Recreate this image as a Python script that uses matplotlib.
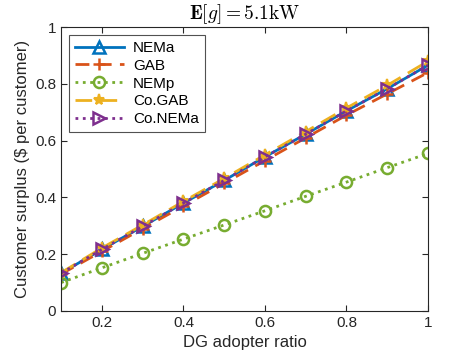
import matplotlib
matplotlib.use("Agg")
import matplotlib.pyplot as plt

plt.rcParams['font.family'] = ['Liberation Sans', 'DejaVu Sans']
plt.rcParams['mathtext.fontset'] = 'cm'

x = [0.1, 0.2, 0.3, 0.4, 0.5, 0.6, 0.7, 0.8, 0.9, 1.0]
nema = [0.133, 0.217, 0.298, 0.380, 0.460, 0.543, 0.623, 0.705, 0.783, 0.866]
gab = [0.130, 0.210, 0.290, 0.370, 0.450, 0.530, 0.610, 0.690, 0.765, 0.840]
nemp = [0.100, 0.152, 0.203, 0.253, 0.303, 0.353, 0.404, 0.454, 0.505, 0.555]
cogab = [0.135, 0.222, 0.303, 0.386, 0.467, 0.550, 0.632, 0.715, 0.795, 0.880]
conema = [0.133, 0.217, 0.298, 0.380, 0.460, 0.543, 0.623, 0.705, 0.783, 0.866]

fig = plt.figure(figsize=(4.74, 3.62), dpi=100)
ax = fig.add_axes([0.129, 0.141, 0.774, 0.784])

lw = 2
ax.plot(x, nema, '-', color='#0072BD', lw=lw, marker='^', ms=8, mfc='none', mew=1.8, label='NEMa')
ax.plot(x, gab, '--', color='#D95319', lw=lw, marker='+', ms=9, mew=1.8, label='GAB', dashes=(5, 3))
ax.plot(x, nemp, ':', color='#77AC30', lw=lw, marker='o', ms=8, mfc='none', mew=1.8, label='NEMp')
ax.plot(x, cogab, '--', color='#EDB120', lw=lw, marker='*', ms=8, mew=1.5, label='Co.GAB', dashes=(6, 3))
ax.plot(x, conema, ':', color='#7E2F8E', lw=lw, marker='>', ms=8, mfc='none', mew=1.8, label='Co.NEMa')

ax.set_xlim(0.1, 1)
ax.set_ylim(0, 1)
ax.set_xticks([0.2, 0.4, 0.6, 0.8, 1.0])
ax.set_xticklabels(['0.2', '0.4', '0.6', '0.8', '1'])
ax.set_yticks([0, 0.2, 0.4, 0.6, 0.8, 1.0])
ax.set_yticklabels(['0', '0.2', '0.4', '0.6', '0.8', '1'])
ax.tick_params(direction='in', top=True, right=True, labelsize=11, colors='#262626', length=4)
for s in ax.spines.values():
    s.set_color('#262626')
    s.set_linewidth(0.8)

ax.set_xlabel('DG adopter ratio', fontsize=12, color='#262626')
ax.set_ylabel('Customer surplus (\\$ per customer)', fontsize=12, color='#262626')
ax.set_title(r'$\mathbf{E}[g]=5.1\mathrm{kW}$', fontsize=14, pad=6)

leg = ax.legend(loc='upper left', fontsize=11, frameon=True, fancybox=False,
                edgecolor='#262626', handlelength=3.2, borderpad=0.4, labelspacing=0.25,
                handletextpad=0.6)
leg.get_frame().set_linewidth(0.8)

fig.savefig('out.png', dpi=100)
